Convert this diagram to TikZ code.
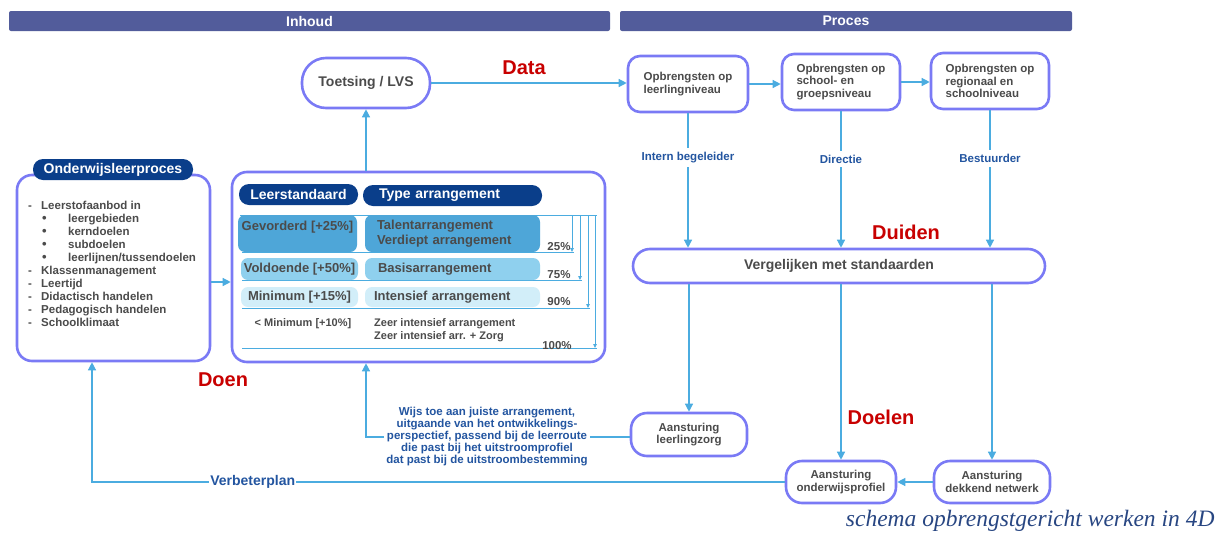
\documentclass[tikz,border=0pt]{standalone}
\usepackage{fontspec}
\setmainfont{Liberation Sans}
\newfontfamily\onderschriftfont{Liberation Serif}
\usetikzlibrary{arrows.meta}
\definecolor{rand}{RGB}{122,122,245}
\definecolor{pijlblauw}{RGB}{75,172,224}
\definecolor{kopblauw}{RGB}{82,92,155}
\definecolor{donkerblauw}{RGB}{10,62,138}
\definecolor{rood}{RGB}{200,0,0}
\definecolor{labelblauw}{RGB}{35,85,160}
\definecolor{grijs}{RGB}{75,75,75}
\definecolor{rij1}{RGB}{78,166,216}
\definecolor{rij2}{RGB}{143,208,238}
\definecolor{rij3}{RGB}{210,238,249}
\definecolor{onderschriftblauw}{RGB}{40,70,130}
\newcommand{\grootte}[2]{\fontsize{#1}{#2}\selectfont}
\newcommand{\punt}{\hspace*{14pt}\makebox[26pt][l]{{\grootte{13}{13}\textbullet}}}
\newcommand{\streep}{\makebox[13pt][l]{-}}

\begin{document}
\begin{tikzpicture}[x=1pt,y=-1pt,>={Triangle[length=8pt,width=8pt]},
		kop/.style={fill=kopblauw,rounded corners=2pt,text=white,font=\bfseries\grootte{14}{16}},
		blok/.style={draw=rand,line width=2.6pt,fill=white,rounded corners=#1,text=grijs,font=\bfseries\grootte{11.5}{12.5},align=left},
		blok/.default=15pt,
		pil/.style={fill=donkerblauw,rounded corners=10pt,text=white,font=\bfseries\grootte{14}{16},inner sep=0pt},
		rij/.style={rounded corners=7pt,text=grijs,font=\bfseries\grootte{13}{15},inner xsep=2pt,inner ysep=0pt},
		pct/.style={text=grijs,font=\bfseries\grootte{11.5}{13},inner sep=0pt},
		pijl/.style={draw=pijlblauw,line width=1.3pt},
		dun/.style={draw=pijlblauw,line width=0.8pt,>={Triangle[length=4pt,width=3.5pt]}},
		lab/.style={fill=white,text=labelblauw,font=\bfseries\grootte{11.5}{12},inner xsep=1pt,inner ysep=4pt},
		kreet/.style={text=rood,font=\bfseries\grootte{20}{22}}]
	\useasboundingbox (0,0) rectangle (1227,536);
	\node[kop,minimum width=601,minimum height=20] (inhoud) at (309.5,21) {Inhoud};
	\node[kop,minimum width=452,minimum height=20] (proces) at (846,21) {Proces};
	\node[blok,minimum width=193,minimum height=186] (olp) at (113.5,268) {};
	\node[pil,minimum width=160,minimum height=21] (olpKop) at (113,169.5) {Onderwijsleerproces};
	\node[anchor=north west,inner sep=0pt,text=grijs,font=\bfseries\grootte{11.5}{13},align=left] (olpTekst) at (28,201) {%
		\streep Leerstofaanbod in\\
		\punt leergebieden\\
		\punt kerndoelen\\
		\punt subdoelen\\
		\punt leerlijnen/tussendoelen\\
		\streep Klassenmanagement\\
		\streep Leertijd\\
		\streep Didactisch handelen\\
		\streep Pedagogisch handelen\\
		\streep Schoolklimaat};
	\node[blok,minimum width=373,minimum height=190] (midden) at (418.5,267) {};
	\draw[dun] (240,215) -- (597,215);
	\foreach \x/\y in {572/252,580/280,588/308,595/348}{
		\draw[dun,->] (\x,215) -- (\x,\y);
		\draw[dun] (242,\y) -- (\x+2,\y);
	}
	\node[pil,minimum width=119,minimum height=21] (leerstd) at (298.5,194.5) {Leerstandaard};
	\node[pil,minimum width=179,minimum height=21,inner xsep=16pt,text width=147,align=left] (typeArr) at (452.5,195.5) {Type arrangement};
	\node[rij,fill=rij1,minimum width=119,minimum height=37,align=center] (gev) at (297.5,233.5) {Gevorderd [+25\%]\\\mbox{}};
	\node[rij,fill=rij1,minimum width=175,minimum height=37,inner xsep=12pt,text width=151,align=left] (talent) at (452.5,233.5) {Talentarrangement\\Verdiept arrangement};
	\node[rij,fill=rij2,minimum width=117,minimum height=22] (vold) at (299.5,269) {Voldoende [+50\%]};
	\node[rij,fill=rij2,minimum width=175,minimum height=22,inner xsep=13pt,text width=149,align=left] (basis) at (452.5,269) {Basisarrangement};
	\node[rij,fill=rij3,minimum width=117,minimum height=20] (mini) at (299.5,297) {Minimum [+15\%]};
	\node[rij,fill=rij3,minimum width=175,minimum height=20,inner xsep=9pt,text width=157,align=left] (intens) at (452.5,297) {Intensief arrangement};
	\node[pct,font=\bfseries\grootte{11}{13}] (onderMin) at (303,324) {< Minimum [+10\%]};
	\node[pct,font=\bfseries\grootte{11}{13},anchor=west,align=left] (zeer) at (374,330.5) {Zeer intensief arrangement\\Zeer intensief arr. + Zorg};
	\node[pct] (p25) at (559,247) {25\%};
	\node[pct] (p75) at (559,275) {75\%};
	\node[pct] (p90) at (559,302) {90\%};
	\node[pct] (p100) at (557,346) {100\%};
	\node[blok=24pt,minimum width=128,minimum height=50,font=\bfseries\grootte{14}{16}] (toetsing) at (366,83) {Toetsing / LVS};
	\node[kreet] (data) at (524,68) {Data};
	\node[blok=12pt,minimum width=120,minimum height=56] (opbrLeerling) at (688,84) {Opbrengsten op\\leerlingniveau};
	\node[blok=12pt,minimum width=118,minimum height=56] (opbrSchool) at (841,82) {Opbrengsten op\\school- en\\groepsniveau};
	\node[blok=12pt,minimum width=118,minimum height=56] (opbrRegio) at (990,81) {Opbrengsten op\\regionaal en\\schoolniveau};
	\node[blok=17pt,minimum width=412,minimum height=34,font=\bfseries\grootte{14}{16}] (vergelijk) at (839,266) {Vergelijken met standaarden};
	\node[kreet] (duiden) at (906,232) {Duiden};
	\node[blok=16pt,minimum width=116,minimum height=43,align=center] (leerlingzorg) at (689,434.5) {Aansturing\\leerlingzorg};
	\node[blok=16pt,minimum width=110,minimum height=42,align=center] (onderwijsprofiel) at (841,482) {Aansturing\\onderwijsprofiel};
	\node[blok=16pt,minimum width=116,minimum height=42,align=center] (dekkend) at (992,482) {Aansturing\\dekkend netwerk};
	\node[kreet] (doelen) at (881,417) {Doelen};
	\node[kreet] (doen) at (223,380) {Doen};
	\node[text=labelblauw,font=\bfseries\grootte{11.5}{12},align=center,inner xsep=2pt] (wijs) at (487,437) {Wijs toe aan juiste arrangement,\\uitgaande van het ontwikkelings-\\perspectief, passend bij de leerroute\\die past bij het uitstroomprofiel\\dat past bij de uitstroombestemming};
	\node[anchor=east,text=onderschriftblauw,font=\onderschriftfont\itshape\grootte{23.5}{26}] (onderschrift) at (1218,521) {schema opbrengstgericht werken in 4D};
	\coordinate (olpUit) at ([yshift=-14pt]olp.east);
	\draw[pijl,->] (olpUit) -- (olpUit -| midden.west);
	\draw[pijl,->] (toetsing |- midden.north) -- (toetsing.south);
	\draw[pijl,->] (toetsing) -- (toetsing -| opbrLeerling.west);
	\draw[pijl,->] (opbrLeerling) -- (opbrLeerling -| opbrSchool.west);
	\draw[pijl,->] (opbrSchool) -- (opbrSchool -| opbrRegio.west);
	\draw[pijl,->] (opbrLeerling) -- (opbrLeerling |- vergelijk.north) node[lab,pos=.33] {Intern begeleider};
	\draw[pijl,->] (opbrSchool) -- (opbrSchool |- vergelijk.north) node[lab,pos=.35] {Directie};
	\draw[pijl,->] (opbrRegio) -- (opbrRegio |- vergelijk.north) node[lab,pos=.35] {Bestuurder};
	\draw[pijl,->] (vergelijk.south -| leerlingzorg) -- (leerlingzorg);
	\draw[pijl,->] (vergelijk.south -| onderwijsprofiel) -- (onderwijsprofiel);
	\draw[pijl,->] (vergelijk.south -| dekkend) -- (dekkend);
	\draw[pijl,->] (dekkend) -- (onderwijsprofiel);
	\draw[pijl] (wijs.east) -- (wijs.east -| leerlingzorg.west);
	\draw[pijl,->] (wijs.west) -| (toetsing |- midden.south);
	\draw[pijl,->] (onderwijsprofiel.west) -| ([xshift=-21.5pt]olp.south) node[lab,pos=.384,font=\bfseries\grootte{14}{16},inner ysep=1pt] {Verbeterplan};
\end{tikzpicture}
\end{document}
